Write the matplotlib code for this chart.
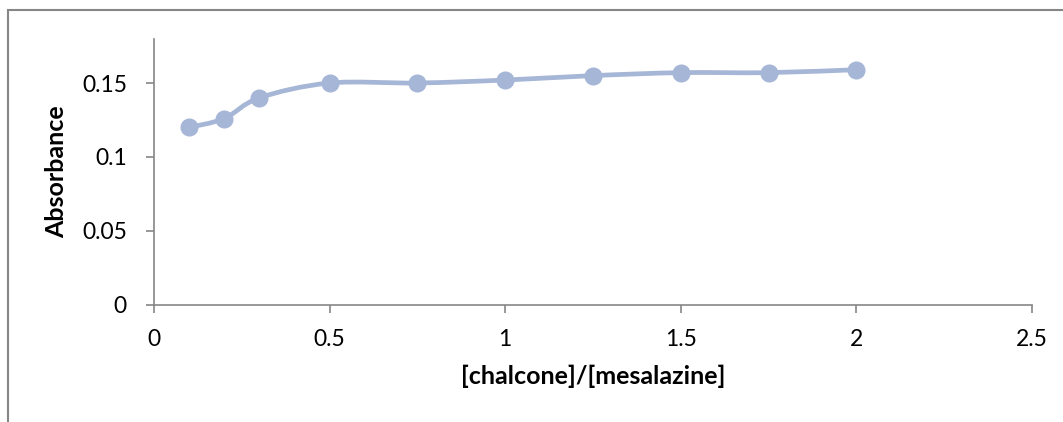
import matplotlib
matplotlib.use('Agg')
import matplotlib.pyplot as plt
from matplotlib.path import Path
from matplotlib.patches import PathPatch, Rectangle

ratio = [0.1, 0.2, 0.3, 0.5, 0.75, 1.0, 1.25, 1.5, 1.75, 2.0]
absorbance = [0.120, 0.126, 0.140, 0.150, 0.150, 0.152, 0.155, 0.157, 0.157, 0.159]
xticks = [0, 0.5, 1, 1.5, 2, 2.5]
yticks = [0, 0.05, 0.1, 0.15]

line_color = '#a6b6d6'
axis_color = '#868686'

plt.rcParams['font.family'] = ['Lato', 'DejaVu Sans']

fig = plt.figure(figsize=(10.63, 4.22), dpi=100)
ax = fig.add_axes([0.1449, 0.2773, 0.8259, 0.6312])

# excel-style smoothed line: bezier segments with catmull-rom control points
verts = [(ratio[0], absorbance[0])]
codes = [Path.MOVETO]
n = len(ratio)
for i in range(n - 1):
    p0 = (ratio[max(i - 1, 0)], absorbance[max(i - 1, 0)])
    p1 = (ratio[i], absorbance[i])
    p2 = (ratio[i + 1], absorbance[i + 1])
    p3 = (ratio[min(i + 2, n - 1)], absorbance[min(i + 2, n - 1)])
    c1 = (p1[0] + (p2[0] - p0[0]) / 6, p1[1] + (p2[1] - p0[1]) / 6)
    c2 = (p2[0] - (p3[0] - p1[0]) / 6, p2[1] - (p3[1] - p1[1]) / 6)
    verts += [c1, c2, p2]
    codes += [Path.CURVE4] * 3
ax.add_patch(PathPatch(Path(verts, codes), facecolor='none', edgecolor=line_color,
                       linewidth=3.4, capstyle='round', joinstyle='round', zorder=2))
ax.plot(ratio, absorbance, linestyle='none', marker='o', markersize=12,
        color=line_color, zorder=3)

ax.set_xlim(0, 2.5)
ax.set_ylim(0, 0.18)
ax.set_xticks(xticks)
ax.set_xticklabels(['0', '0.5', '1', '1.5', '2', '2.5'])
ax.set_yticks(yticks)
ax.set_yticklabels(['0', '0.05', '0.1', '0.15'])
ax.tick_params(labelsize=16.5, color=axis_color, length=5.5, width=1.2)
ax.tick_params(axis='x', pad=12)
ax.tick_params(axis='y', pad=14)
for s in ['top', 'right']:
    ax.spines[s].set_visible(False)
for s in ['left', 'bottom']:
    ax.spines[s].set_color(axis_color)
    ax.spines[s].set_linewidth(1.2)

ax.set_xlabel('[chalcone]/[mesalazine]', fontsize=18, fontweight='bold', labelpad=10.5)
ax.set_ylabel('Absorbance', fontsize=18, fontweight='bold', labelpad=10)

# chart area border (bottom/right fall outside the picture)
fig.add_artist(Rectangle((8 / 1063, -0.1), 1.2, 1.1 - 10 / 422, transform=fig.transFigure,
                         facecolor='none', edgecolor=axis_color, linewidth=1.5))

fig.savefig('out.png', dpi=100)
